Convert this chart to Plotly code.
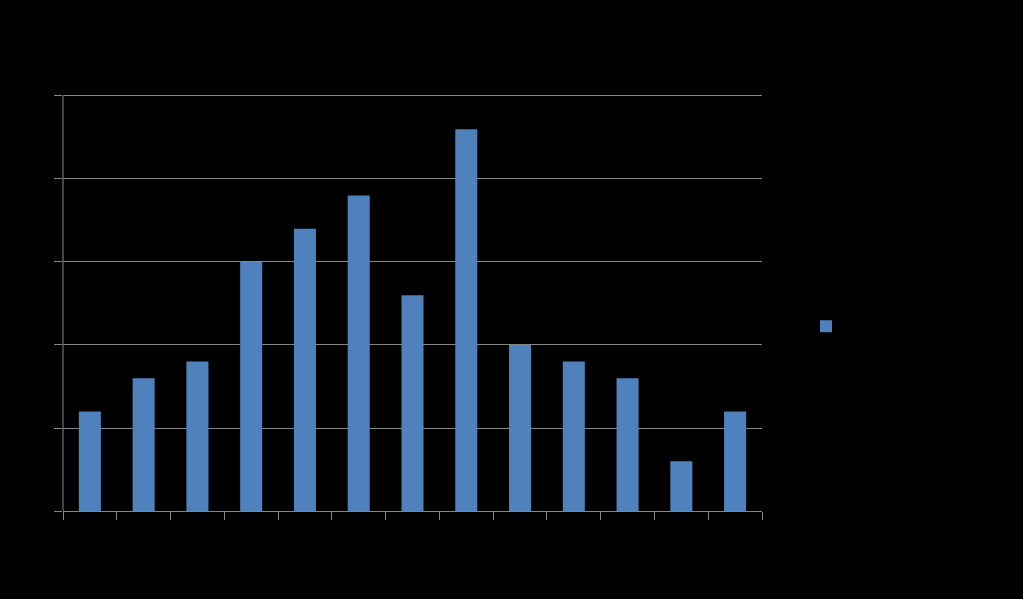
import plotly.graph_objects as go

categories = ["1", "2", "3", "4", "5", "6", "7", "8", "9", "10", "11", "12", "13"]
values = [6, 8, 9, 15, 17, 19, 13, 23, 10, 9, 8, 3, 6]
series_name = "Series1"
y_ticks = [0, 5, 10, 15, 20, 25]

fig = go.Figure()
fig.add_trace(go.Bar(
    x=categories, y=values, name=series_name,
    marker=dict(color="#4F81BD", line=dict(width=0)),
    showlegend=True,
))

fig.update_layout(
    width=1023, height=599,
    paper_bgcolor="black", plot_bgcolor="black",
    margin=dict(l=63, r=261, t=91, b=88),
    bargap=0.59,
    font=dict(family="Liberation Sans", color="black", size=13),
    showlegend=True,
    legend=dict(x=1.063, y=0.44, xanchor="left", yanchor="middle",
                bgcolor="rgba(0,0,0,0)", font=dict(color="black", size=13)),
)
# vertical value-axis line, ending at the top gridline as in the reference
fig.add_shape(type="line", xref="paper", yref="y",
              x0=0, x1=0, y0=0, y1=max(y_ticks),
              line=dict(color="#868686", width=1), layer="above")
fig.update_xaxes(
    type="category", tickson="boundaries",
    showline=True, linecolor="#868686", linewidth=1,
    ticks="outside", ticklen=8, tickcolor="#868686", tickwidth=1,
    showgrid=False, tickfont=dict(color="black"),
)
fig.update_yaxes(
    range=[0, 25.3], tickvals=y_ticks,
    showline=False,
    ticks="outside", ticklen=8, tickcolor="#868686", tickwidth=1,
    showgrid=True, gridcolor="#868686", gridwidth=1,
    zeroline=False, tickfont=dict(color="black"),
)

fig.write_html(
    "out.html",
    config={"displayModeBar": False},
    post_script="document.body.style.margin='0';document.body.style.background='black';",
)
